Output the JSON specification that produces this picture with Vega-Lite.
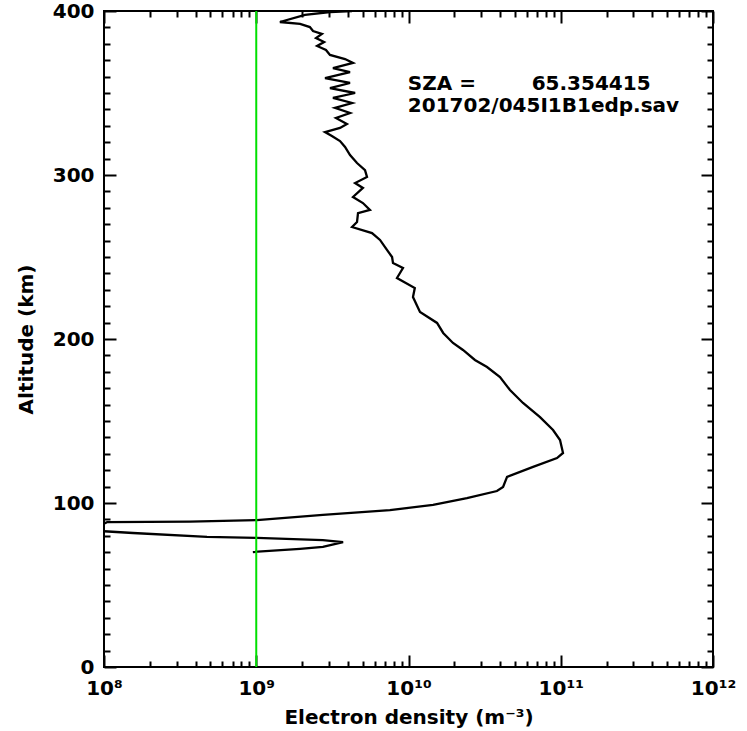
{
  "$schema": "https://vega.github.io/schema/vega-lite/v6.json",
  "width": 609,
  "height": 656,
  "autosize": {"type": "none"},
  "padding": {"left": 104, "top": 11, "right": 34, "bottom": 64},
  "background": "white",
  "config": {
    "view": {"stroke": "black", "strokeWidth": 2},
    "axis": {
      "grid": false, "domain": false, "tickColor": "black", "tickWidth": 2,
      "labelFont": "DejaVu Sans", "labelFontWeight": "bold", "labelFontSize": 20, "labelColor": "black",
      "titleFont": "DejaVu Sans", "titleFontWeight": "bold", "titleFontSize": 20, "titleColor": "black",
      "labelFlush": false
    }
  },
  "datasets": {
    "curve": [
      {"i":1,"alt":400,"n":4.26e9},{"i":2,"alt":399.4,"n":3.05e9},{"i":3,"alt":397.6,"n":2.09e9},{"i":4,"alt":393.3,"n":1.43e9},
      {"i":5,"alt":392.1,"n":1.94e9},{"i":6,"alt":390.2,"n":2.25e9},{"i":7,"alt":387.8,"n":2.36e9},{"i":8,"alt":386.0,"n":2.70e9},
      {"i":9,"alt":383.5,"n":2.47e9},{"i":10,"alt":381.1,"n":2.79e9},{"i":11,"alt":378.7,"n":2.51e9},{"i":12,"alt":376.2,"n":2.87e9},
      {"i":13,"alt":373.2,"n":3.05e9},{"i":14,"alt":370.7,"n":3.83e9},{"i":15,"alt":368.3,"n":4.32e9},{"i":16,"alt":365.2,"n":3.19e9},
      {"i":17,"alt":362.8,"n":4.13e9},{"i":18,"alt":359.1,"n":2.83e9},{"i":19,"alt":356.1,"n":4.13e9},{"i":20,"alt":353.0,"n":3.05e9},
      {"i":21,"alt":350.0,"n":4.46e9},{"i":22,"alt":347.0,"n":3.19e9},{"i":23,"alt":343.9,"n":4.26e9},{"i":24,"alt":340.9,"n":3.29e9},
      {"i":25,"alt":337.8,"n":4.13e9},{"i":26,"alt":334.8,"n":3.34e9},{"i":27,"alt":331.1,"n":3.94e9},{"i":28,"alt":328.7,"n":3.55e9},
      {"i":29,"alt":326.2,"n":2.83e9},{"i":30,"alt":323.8,"n":3.14e9},{"i":31,"alt":320.7,"n":3.55e9},{"i":32,"alt":317.1,"n":3.83e9},
      {"i":33,"alt":312.2,"n":4.13e9},{"i":34,"alt":307.3,"n":4.59e9},{"i":35,"alt":303.0,"n":5.18e9},{"i":36,"alt":298.8,"n":5.34e9},
      {"i":37,"alt":295.1,"n":4.46e9},{"i":38,"alt":292.1,"n":5.02e9},{"i":39,"alt":286.6,"n":4.32e9},{"i":40,"alt":282.9,"n":5.02e9},
      {"i":41,"alt":278.7,"n":5.58e9},{"i":42,"alt":276.8,"n":4.66e9},{"i":43,"alt":271.3,"n":4.59e9},{"i":44,"alt":268.3,"n":4.26e9},
      {"i":45,"alt":264.6,"n":5.76e9},{"i":46,"alt":260.4,"n":6.50e9},{"i":47,"alt":254.3,"n":7.22e9},{"i":48,"alt":250.0,"n":7.80e9},
      {"i":49,"alt":246.3,"n":7.91e9},{"i":50,"alt":243.3,"n":9.20e9},{"i":51,"alt":237.2,"n":8.40e9},{"i":52,"alt":231.1,"n":1.10e10},
      {"i":53,"alt":225.6,"n":1.07e10},{"i":54,"alt":216.5,"n":1.19e10},{"i":55,"alt":209.8,"n":1.54e10},{"i":56,"alt":203.7,"n":1.69e10},
      {"i":57,"alt":197.6,"n":1.96e10},{"i":58,"alt":193.3,"n":2.28e10},{"i":59,"alt":187.2,"n":2.73e10},{"i":60,"alt":182.9,"n":3.28e10},
      {"i":61,"alt":176.8,"n":3.99e10},{"i":62,"alt":168.9,"n":4.64e10},{"i":63,"alt":161.0,"n":5.65e10},{"i":64,"alt":152.4,"n":7.31e10},
      {"i":65,"alt":144.5,"n":8.90e10},{"i":66,"alt":138.4,"n":9.89e10},{"i":67,"alt":130.5,"n":1.035e11},{"i":68,"alt":127.4,"n":9.45e10},
      {"i":69,"alt":122.0,"n":6.58e10},{"i":70,"alt":115.9,"n":4.44e10},{"i":71,"alt":109.8,"n":4.18e10},{"i":72,"alt":107.3,"n":3.81e10},
      {"i":73,"alt":103.0,"n":2.42e10},{"i":74,"alt":98.8,"n":1.45e10},{"i":75,"alt":95.7,"n":7.55e9},{"i":76,"alt":92.7,"n":2.74e9},
      {"i":77,"alt":89.6,"n":1.01e9},{"i":78,"alt":88.6,"n":3.67e8},{"i":79,"alt":88.4,"n":1.05e8},{"i":80,"alt":87.8,"n":1.02e8},
      {"i":81,"alt":85.0,"n":4e7},{"i":82,"alt":81.7,"n":1.55e8},{"i":83,"alt":79.3,"n":4.75e8},{"i":84,"alt":78.7,"n":1.01e9},
      {"i":85,"alt":77.4,"n":2.74e9},{"i":86,"alt":76.2,"n":3.72e9},{"i":87,"alt":73.2,"n":2.74e9},{"i":88,"alt":72.0,"n":1.94e9},
      {"i":89,"alt":70.1,"n":9.5e8}
    ],
    "ref": [{"n": 1e9, "a0": 0, "a1": 400}],
    "notes": [
      {"n": 9.9e9, "alt": 351.8, "t": "SZA =\u00a0\u00a0\u00a0\u00a0\u00a0\u00a0\u00a0\u00a065.354415"},
      {"n": 9.9e9, "alt": 338.6, "t": "201702/045I1B1edp.sav"}
    ]
  },
  "layer": [
    {
      "data": {"name": "curve"},
      "mark": {"type": "line", "color": "black", "strokeWidth": 2.3, "clip": true},
      "encoding": {
        "x": {"field": "n", "type": "quantitative", "scale": {"type": "log", "domain": [1e8, 1e12]},
          "axis": {"orient": "bottom", "values": [1e8, 1e9, 1e10, 1e11, 1e12], "ticks": false, "labelPadding": 11,
            "labelExpr": "'10' + ['⁸','⁹','¹⁰','¹¹','¹²'][round(log(datum.value)/LN10) - 8]",
            "title": "Electron density (m⁻³)", "titlePadding": 9}},
        "y": {"field": "alt", "type": "quantitative", "scale": {"domain": [0, 400], "nice": false, "zero": false},
          "axis": {"orient": "left", "values": [0, 100, 200, 300, 400], "ticks": false, "labelPadding": 10,
            "title": "Altitude (km)", "titlePadding": 16}},
        "order": {"field": "i", "type": "quantitative"}
      }
    },
    {
      "data": {"name": "ref"},
      "mark": {"type": "rule", "color": "#00e000", "strokeWidth": 2},
      "encoding": {
        "x": {"field": "n", "type": "quantitative", "scale": {"type": "log", "domain": [1e8, 1e12]},
          "axis": {"orient": "bottom", "values": [1e8, 1e9, 1e10, 1e11, 1e12], "labels": false, "tickSize": -12, "title": null}},
        "y": {"field": "a0", "type": "quantitative", "scale": {"domain": [0, 400], "nice": false},
          "axis": {"orient": "left", "values": [0, 100, 200, 300, 400], "labels": false, "tickSize": -12, "title": null}},
        "y2": {"field": "a1"}
      }
    },
    {
      "data": {"name": "notes"},
      "mark": {"type": "text", "align": "left", "baseline": "alphabetic", "font": "DejaVu Sans", "fontWeight": "bold", "fontSize": 20, "color": "black"},
      "encoding": {
        "x": {"field": "n", "type": "quantitative", "scale": {"type": "log", "domain": [1e8, 1e12]},
          "axis": {"orient": "bottom", "values": [2e8,3e8,4e8,5e8,6e8,7e8,8e8,9e8,2e9,3e9,4e9,5e9,6e9,7e9,8e9,9e9,2e10,3e10,4e10,5e10,6e10,7e10,8e10,9e10,2e11,3e11,4e11,5e11,6e11,7e11,8e11,9e11], "labels": false, "tickSize": -6, "title": null}},
        "y": {"field": "alt", "type": "quantitative", "scale": {"domain": [0, 400], "nice": false},
          "axis": {"orient": "left", "values": [10,20,30,40,50,60,70,80,90,110,120,130,140,150,160,170,180,190,210,220,230,240,250,260,270,280,290,310,320,330,340,350,360,370,380,390], "labels": false, "tickSize": -6, "title": null}},
        "text": {"field": "t"}
      }
    },
    {
      "data": {"name": "notes"},
      "mark": {"type": "point", "opacity": 0},
      "encoding": {
        "x": {"field": "n", "type": "quantitative", "scale": {"type": "log", "domain": [1e8, 1e12]},
          "axis": {"orient": "top", "values": [1e8, 1e9, 1e10, 1e11, 1e12], "labels": false, "tickSize": -12, "title": null}},
        "y": {"field": "alt", "type": "quantitative", "scale": {"domain": [0, 400], "nice": false},
          "axis": {"orient": "right", "values": [0, 100, 200, 300, 400], "labels": false, "tickSize": -12, "title": null}}
      }
    },
    {
      "data": {"name": "notes"},
      "mark": {"type": "point", "opacity": 0},
      "encoding": {
        "x": {"field": "n", "type": "quantitative", "scale": {"type": "log", "domain": [1e8, 1e12]},
          "axis": {"orient": "top", "values": [2e8,3e8,4e8,5e8,6e8,7e8,8e8,9e8,2e9,3e9,4e9,5e9,6e9,7e9,8e9,9e9,2e10,3e10,4e10,5e10,6e10,7e10,8e10,9e10,2e11,3e11,4e11,5e11,6e11,7e11,8e11,9e11], "labels": false, "tickSize": -6, "title": null}},
        "y": {"field": "alt", "type": "quantitative", "scale": {"domain": [0, 400], "nice": false},
          "axis": {"orient": "right", "values": [10,20,30,40,50,60,70,80,90,110,120,130,140,150,160,170,180,190,210,220,230,240,250,260,270,280,290,310,320,330,340,350,360,370,380,390], "labels": false, "tickSize": -6, "title": null}}
      }
    }
  ],
  "resolve": {"axis": {"x": "independent", "y": "independent"}}
}
